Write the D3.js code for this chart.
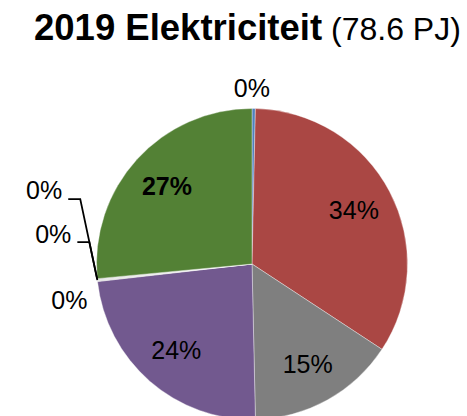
<!DOCTYPE html>
<html>
<head>
<meta charset="utf-8">
<script src="https://cdn.jsdelivr.net/npm/d3@7"></script>
<style>
  html, body { margin: 0; padding: 0; background: #fff; }
  svg { display: block; font-family: "Liberation Sans", Arial, sans-serif; }
</style>
</head>
<body>
<svg id="chart" width="467" height="416"></svg>
<script>
// ---- data ----
const categories = ["Categorie 1", "Categorie 2", "Categorie 3", "Categorie 4", "Categorie 5", "Categorie 6", "Categorie 7", "Categorie 8"];
const values = [0.35, 33.9, 15.4, 23.55, 0.1, 0.1, 0.1, 26.5];
const titleMain = "2019 Elektriciteit";
const titleSub = " (78.6 PJ)";

// ---- layout / style ----
const W = 467, H = 416;
const cx = 252, cy = 264, R = 155.5;
const colors = ["#4F81BD", "#AA4744", "#7F7F7F", "#72598F", "#C9C9C9", "#D0D0D0", "#C4C4C4", "#538135"];
const font = 25;

const svg = d3.select("#chart");

// title
const t = svg.append("text").attr("x", 34).attr("y", 40).attr("fill", "#000");
t.append("tspan").attr("font-weight", "bold").attr("font-size", 36.5).text(titleMain);
t.append("tspan").attr("font-size", 32).text(titleSub);

const pie = d3.pie().sort(null).value(d => d);
const arcs = pie(values);
const total = d3.sum(values);
const pct = v => Math.round(v / total * 100) + "%";

const arc = d3.arc().innerRadius(0).outerRadius(R);
const inner = d3.arc().innerRadius(R * 0.74).outerRadius(R * 0.74);
const edge = d3.arc().innerRadius(R).outerRadius(R);

const g = svg.append("g").attr("transform", `translate(${cx},${cy})`);

g.selectAll("path.slice")
  .data(arcs)
  .join("path")
  .attr("class", "slice")
  .attr("d", arc)
  .attr("fill", (d, i) => colors[i])
  .attr("stroke", "#ffffff")
  .attr("stroke-opacity", 0.6)
  .attr("stroke-width", 0.6);

// large-slice labels inside
const bigIdx = [1, 2, 3, 7];
bigIdx.forEach(i => {
  const [x, y] = inner.centroid(arcs[i]);
  g.append("text")
    .attr("x", x).attr("y", y).attr("dy", "0.35em")
    .attr("text-anchor", "middle")
    .attr("font-size", font)
    .attr("font-weight", i === 7 ? "bold" : "normal")
    .attr("fill", "#000")
    .text(pct(values[i]));
});

// small label at top (first slice)
{
  const outer = d3.arc().innerRadius(R + 20).outerRadius(R + 20);
  const [x, y] = outer.centroid(arcs[0]);
  g.append("text")
    .attr("x", x - 2).attr("y", y).attr("dy", "0.35em")
    .attr("text-anchor", "middle")
    .attr("font-size", font)
    .attr("fill", "#000")
    .text(pct(values[0]));
}

// tiny slices on the left with leader lines
const tinyLayout = [
  { i: 4, tx: -10, ty: 28, leader: null },
  { i: 5, tx: -26, ty: -37, leader: [[-20, -38], [-8, -38]] },
  { i: 6, tx: -35, ty: -80, leader: [[-29, -80], [-17, -80]] }
];
tinyLayout.forEach(L => {
  const [px, py] = edge.centroid(arcs[L.i]);
  g.append("text")
    .attr("x", px + L.tx).attr("y", py + L.ty)
    .attr("text-anchor", "end")
    .attr("font-size", font)
    .attr("fill", "#000")
    .text(pct(values[L.i]));
  if (L.leader) {
    const pts = L.leader.map(([dx, dy]) => [px + dx, py + dy]).concat([[px, py]]);
    g.append("path")
      .attr("d", d3.line()(pts))
      .attr("fill", "none")
      .attr("stroke", "#000")
      .attr("stroke-width", 1.8);
  }
});
</script>
</body>
</html>
